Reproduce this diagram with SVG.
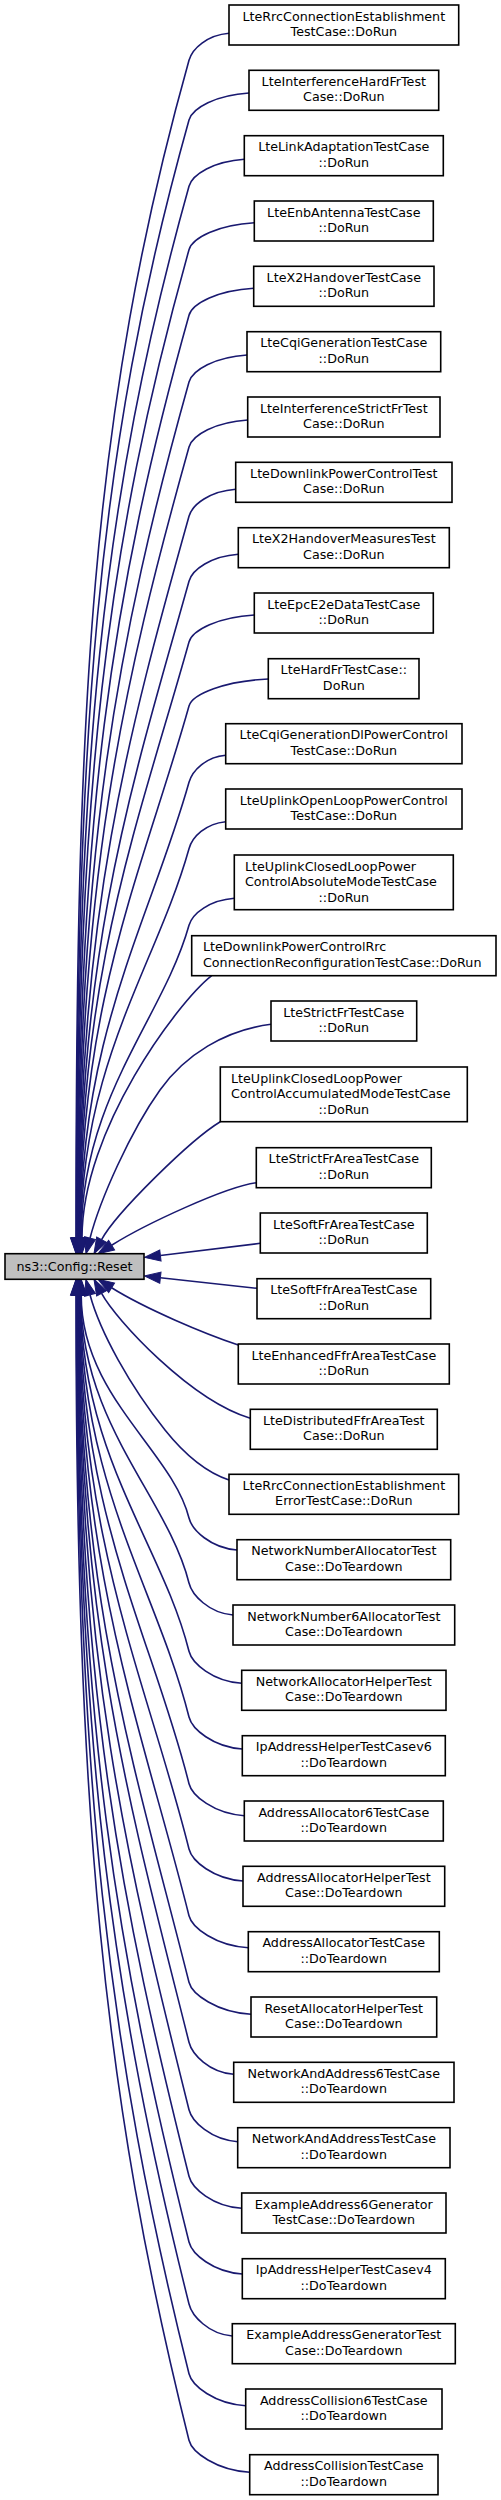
<svg xmlns="http://www.w3.org/2000/svg" width="501" height="2500" viewBox="0 0 501 2500">
<style>
.node rect{fill:#ffffff;stroke:#000000;stroke-width:1.6}
.root rect{fill:#bfbfbf;stroke:#000000;stroke-width:1.6}
text{font-family:"DejaVu Sans","Liberation Sans",sans-serif;font-size:12.7px;fill:#000000}
.c{text-anchor:middle}
.edges path{fill:none;stroke:#191970;stroke-width:1.6;marker-end:url(#ah)}
</style>
<defs>
<marker id="ah" markerUnits="userSpaceOnUse" markerWidth="16" markerHeight="11.2" viewBox="0 0 16 11.2" refX="0" refY="5.6" orient="auto" overflow="visible">
<path d="M0,0 L16,5.6 L0,11.2 z" fill="#191970" stroke="#191970" stroke-width="1"/>
</marker>
</defs>
<rect width="501" height="2500" fill="#ffffff"/>
<g class="edges" id="edges">
<path d="M229,33.3 C207,35.3 192.4,48.3 189,60.3 C90.1,413.5 76,707.9 76,1237.7"/>
<path d="M249,93 C216,95 192.4,108 189,120 C95.1,455.3 76.4,734.7 76.4,1237.7"/>
<path d="M244.3,159.3 C213.9,161.3 192.4,174.3 189,186.3 C100.7,501.7 76.8,764.6 76.8,1237.7"/>
<path d="M254.3,222.7 C218.4,224.7 192.4,237.7 189,249.7 C106,546.1 77.2,793.1 77.2,1237.7"/>
<path d="M253.7,288.3 C218.1,290.3 192.4,303.3 189,315.3 C111.5,592 77.6,822.6 77.6,1237.7"/>
<path d="M247,355 C215.1,357 192.4,370 189,382 C117.1,638.7 78,852.6 78,1237.7"/>
<path d="M247.7,420 C215.4,422 192.4,435 189,447 C122.6,684.2 78.4,881.9 78.4,1237.7"/>
<path d="M235.7,489.3 C210,491.3 192.4,504.3 189,516.3 C128.4,732.7 78.8,913.1 78.8,1237.7"/>
<path d="M238.3,554.3 C211.2,556.3 192.4,569.3 189,581.3 C133.9,778.2 79.2,942.3 79.2,1237.7"/>
<path d="M254.3,615 C218.4,617 192.4,630 189,642 C139,820.7 79.6,969.6 79.6,1237.7"/>
<path d="M268.3,679 C224.7,681 192.4,694 189,706 C144.3,865.5 80,998.4 80,1237.7"/>
<path d="M225.7,755.3 C205.5,757.3 192.4,770.3 189,782.3 C150.7,918.9 80.4,1032.8 80.4,1237.7"/>
<path d="M225.7,821.7 C205.5,823.7 192.4,836.7 189,848.7 C156.3,965.4 80.8,1062.7 80.8,1237.7"/>
<path d="M234.3,898.3 C209.4,900.3 192.4,913.3 189,925.3 C162.8,1019 81.2,1097.1 81.2,1237.7"/>
<path d="M211.7,975.7 C178,1002 82,1130 82,1237.7"/>
<path d="M271,1024.3 C225,1030 185,1055 160,1090 C130,1132 100,1200 90,1238.2"/>
<path d="M220.3,1121.7 C190,1140 115.9,1213.2 101.6,1239.6"/>
<path d="M256.3,1182.7 C225,1187 145.6,1224 111.6,1245.2"/>
<path d="M260.3,1243.3 C220,1248 190,1252 160.4,1255.5"/>
<path d="M257,1288.3 C220,1284.5 190,1281 160.4,1277.7"/>
<path d="M238.3,1345 C205,1334 145.6,1309 111.6,1287.8"/>
<path d="M250.3,1418.3 C190,1400 115.9,1319.8 101.6,1293.4"/>
<path d="M229,1480 C205,1472 185,1455 165,1430 C130,1386 100,1332 90,1294.8"/>
<path d="M237,1550 C210.6,1548 192,1530 189,1518 C172.3,1451.2 81.2,1395.5 81.2,1295.3"/>
<path d="M233,1615 C208.8,1613 192,1595 189,1583 C167.4,1496.7 80.8,1424.8 80.8,1295.3"/>
<path d="M241.7,1683.3 C212.7,1681.3 192,1663.3 189,1651.3 C162.3,1544.5 80.5,1455.5 80.5,1295.3"/>
<path d="M242.3,1749 C213,1747 192,1729 189,1717 C157.4,1590.5 80.1,1485.1 80.1,1295.3"/>
<path d="M244.3,1815.7 C213.9,1813.7 192,1795.7 189,1783.7 C152.4,1637.2 79.7,1515.1 79.7,1295.3"/>
<path d="M243,1881 C213.3,1879 192,1861 189,1849 C147.5,1682.9 79.3,1544.5 79.3,1295.3"/>
<path d="M248.3,1947.7 C215.7,1945.7 192,1927.7 189,1915.7 C142.5,1729.6 79,1574.5 79,1295.3"/>
<path d="M251,2014.3 C216.9,2012.3 192,1994.3 189,1982.3 C137.5,1776.2 78.6,1604.5 78.6,1295.3"/>
<path d="M233.7,2074.3 C209.1,2072.3 192,2054.3 189,2042.3 C133,1818.2 78.2,1631.5 78.2,1295.3"/>
<path d="M237.7,2141.7 C210.9,2139.7 192,2121.7 189,2109.7 C127.9,1865.4 77.9,1661.8 77.9,1295.3"/>
<path d="M241.7,2208.3 C212.7,2206.3 192,2188.3 189,2176.3 C122.9,1912 77.5,1691.8 77.5,1295.3"/>
<path d="M242.3,2274 C213,2272 192,2254 189,2242 C118,1958 77.1,1721.3 77.1,1295.3"/>
<path d="M232.3,2336 C208.5,2334 192,2316 189,2304 C113.3,2001.4 76.8,1749.2 76.8,1295.3"/>
<path d="M245.7,2405.7 C214.5,2403.7 192,2385.7 189,2373.7 C108.1,2050.2 76.4,1780.6 76.4,1295.3"/>
<path d="M249.7,2472.3 C216.3,2470.3 192,2452.3 189,2440.3 C103.1,2096.8 76,1810.6 76,1295.3"/>
</g>
<g id="root" class="root"><rect x="5" y="1253.7" width="139" height="25.6"/><text class="c" x="74.5" y="1271">ns3::Config::Reset</text></g>
<g id="n1" class="node"><rect x="229" y="5" width="229.7" height="40"/><text class="c" x="343.8" y="20.7">LteRrcConnectionEstablishment</text><text class="c" x="343.8" y="36">TestCase::DoRun</text></g>
<g id="n2" class="node"><rect x="249" y="70.3" width="189.7" height="40"/><text class="c" x="343.8" y="86">LteInterferenceHardFrTest</text><text class="c" x="343.8" y="101.3">Case::DoRun</text></g>
<g id="n3" class="node"><rect x="244.3" y="135.7" width="199" height="40"/><text class="c" x="343.8" y="151.4">LteLinkAdaptationTestCase</text><text class="c" x="343.8" y="166.7">::DoRun</text></g>
<g id="n4" class="node"><rect x="254.3" y="201" width="179" height="40"/><text class="c" x="343.8" y="216.7">LteEnbAntennaTestCase</text><text class="c" x="343.8" y="232">::DoRun</text></g>
<g id="n5" class="node"><rect x="253.7" y="266.3" width="180.3" height="40"/><text class="c" x="343.8" y="282">LteX2HandoverTestCase</text><text class="c" x="343.8" y="297.3">::DoRun</text></g>
<g id="n6" class="node"><rect x="247" y="331.7" width="193.7" height="40"/><text class="c" x="343.8" y="347.4">LteCqiGenerationTestCase</text><text class="c" x="343.8" y="362.7">::DoRun</text></g>
<g id="n7" class="node"><rect x="247.7" y="397" width="192.3" height="40"/><text class="c" x="343.8" y="412.7">LteInterferenceStrictFrTest</text><text class="c" x="343.8" y="428">Case::DoRun</text></g>
<g id="n8" class="node"><rect x="235.7" y="462.3" width="216.3" height="40"/><text class="c" x="343.8" y="478">LteDownlinkPowerControlTest</text><text class="c" x="343.8" y="493.3">Case::DoRun</text></g>
<g id="n9" class="node"><rect x="238.3" y="527.7" width="211" height="40"/><text class="c" x="343.8" y="543.4">LteX2HandoverMeasuresTest</text><text class="c" x="343.8" y="558.7">Case::DoRun</text></g>
<g id="n10" class="node"><rect x="254.3" y="593" width="179" height="40"/><text class="c" x="343.8" y="608.7">LteEpcE2eDataTestCase</text><text class="c" x="343.8" y="624">::DoRun</text></g>
<g id="n11" class="node"><rect x="268.3" y="658.7" width="150.7" height="40"/><text class="c" x="343.8" y="674.4">LteHardFrTestCase::</text><text class="c" x="343.8" y="689.7">DoRun</text></g>
<g id="n12" class="node"><rect x="225.7" y="723.7" width="236.3" height="40"/><text class="c" x="343.8" y="739.4">LteCqiGenerationDlPowerControl</text><text class="c" x="343.8" y="754.7">TestCase::DoRun</text></g>
<g id="n13" class="node"><rect x="225.7" y="789" width="236.3" height="40"/><text class="c" x="343.8" y="804.7">LteUplinkOpenLoopPowerControl</text><text class="c" x="343.8" y="820">TestCase::DoRun</text></g>
<g id="n14" class="node"><rect x="234.3" y="855" width="219" height="54.7"/><text x="245" y="871">LteUplinkClosedLoopPower</text><text x="245" y="886.3">ControlAbsoluteModeTestCase</text><text class="c" x="343.8" y="901.6">::DoRun</text></g>
<g id="n15" class="node"><rect x="191.7" y="935.7" width="304.3" height="40"/><text x="203" y="951.4">LteDownlinkPowerControlRrc</text><text x="203" y="966.7">ConnectionReconfigurationTestCase::DoRun</text></g>
<g id="n16" class="node"><rect x="271" y="1001" width="145.7" height="40"/><text class="c" x="343.8" y="1016.7">LteStrictFrTestCase</text><text class="c" x="343.8" y="1032">::DoRun</text></g>
<g id="n17" class="node"><rect x="220.3" y="1067" width="247" height="54.7"/><text x="231" y="1083">LteUplinkClosedLoopPower</text><text x="231" y="1098.3">ControlAccumulatedModeTestCase</text><text class="c" x="343.8" y="1113.6">::DoRun</text></g>
<g id="n18" class="node"><rect x="256.3" y="1147.7" width="175" height="40"/><text class="c" x="343.8" y="1163.4">LteStrictFrAreaTestCase</text><text class="c" x="343.8" y="1178.7">::DoRun</text></g>
<g id="n19" class="node"><rect x="260.3" y="1213" width="167" height="40"/><text class="c" x="343.8" y="1228.7">LteSoftFrAreaTestCase</text><text class="c" x="343.8" y="1244">::DoRun</text></g>
<g id="n20" class="node"><rect x="257" y="1278.7" width="173.7" height="40"/><text class="c" x="343.8" y="1294.4">LteSoftFfrAreaTestCase</text><text class="c" x="343.8" y="1309.7">::DoRun</text></g>
<g id="n21" class="node"><rect x="238.3" y="1344" width="211" height="40"/><text class="c" x="343.8" y="1359.7">LteEnhancedFfrAreaTestCase</text><text class="c" x="343.8" y="1375">::DoRun</text></g>
<g id="n22" class="node"><rect x="250.3" y="1409.3" width="187" height="40"/><text class="c" x="343.8" y="1425">LteDistributedFfrAreaTest</text><text class="c" x="343.8" y="1440.3">Case::DoRun</text></g>
<g id="n23" class="node"><rect x="229" y="1474.3" width="229.7" height="40"/><text class="c" x="343.8" y="1490">LteRrcConnectionEstablishment</text><text class="c" x="343.8" y="1505.3">ErrorTestCase::DoRun</text></g>
<g id="n24" class="node"><rect x="237" y="1539.7" width="213.7" height="40"/><text class="c" x="343.8" y="1555.4">NetworkNumberAllocatorTest</text><text class="c" x="343.8" y="1570.7">Case::DoTeardown</text></g>
<g id="n25" class="node"><rect x="233" y="1605" width="221.7" height="40"/><text class="c" x="343.8" y="1620.7">NetworkNumber6AllocatorTest</text><text class="c" x="343.8" y="1636">Case::DoTeardown</text></g>
<g id="n26" class="node"><rect x="241.7" y="1670.3" width="204.3" height="40"/><text class="c" x="343.8" y="1686">NetworkAllocatorHelperTest</text><text class="c" x="343.8" y="1701.3">Case::DoTeardown</text></g>
<g id="n27" class="node"><rect x="242.3" y="1735.7" width="203" height="40"/><text class="c" x="343.8" y="1751.4">IpAddressHelperTestCasev6</text><text class="c" x="343.8" y="1766.7">::DoTeardown</text></g>
<g id="n28" class="node"><rect x="244.3" y="1801" width="199" height="40"/><text class="c" x="343.8" y="1816.7">AddressAllocator6TestCase</text><text class="c" x="343.8" y="1832">::DoTeardown</text></g>
<g id="n29" class="node"><rect x="243" y="1866.3" width="201.7" height="40"/><text class="c" x="343.8" y="1882">AddressAllocatorHelperTest</text><text class="c" x="343.8" y="1897.3">Case::DoTeardown</text></g>
<g id="n30" class="node"><rect x="248.3" y="1931.7" width="191" height="40"/><text class="c" x="343.8" y="1947.4">AddressAllocatorTestCase</text><text class="c" x="343.8" y="1962.7">::DoTeardown</text></g>
<g id="n31" class="node"><rect x="251" y="1997" width="185.7" height="40"/><text class="c" x="343.8" y="2012.7">ResetAllocatorHelperTest</text><text class="c" x="343.8" y="2028">Case::DoTeardown</text></g>
<g id="n32" class="node"><rect x="233.7" y="2062.3" width="220.3" height="40"/><text class="c" x="343.8" y="2078">NetworkAndAddress6TestCase</text><text class="c" x="343.8" y="2093.3">::DoTeardown</text></g>
<g id="n33" class="node"><rect x="237.7" y="2127.7" width="212.3" height="40"/><text class="c" x="343.8" y="2143.4">NetworkAndAddressTestCase</text><text class="c" x="343.8" y="2158.7">::DoTeardown</text></g>
<g id="n34" class="node"><rect x="241.7" y="2193" width="204.3" height="40"/><text class="c" x="343.8" y="2208.7">ExampleAddress6Generator</text><text class="c" x="343.8" y="2224">TestCase::DoTeardown</text></g>
<g id="n35" class="node"><rect x="242.3" y="2258.7" width="203" height="40"/><text class="c" x="343.8" y="2274.4">IpAddressHelperTestCasev4</text><text class="c" x="343.8" y="2289.7">::DoTeardown</text></g>
<g id="n36" class="node"><rect x="232.3" y="2323.7" width="223" height="40"/><text class="c" x="343.8" y="2339.4">ExampleAddressGeneratorTest</text><text class="c" x="343.8" y="2354.7">Case::DoTeardown</text></g>
<g id="n37" class="node"><rect x="245.7" y="2389" width="196.3" height="40"/><text class="c" x="343.8" y="2404.7">AddressCollision6TestCase</text><text class="c" x="343.8" y="2420">::DoTeardown</text></g>
<g id="n38" class="node"><rect x="249.7" y="2454.7" width="188.3" height="40"/><text class="c" x="343.8" y="2470.4">AddressCollisionTestCase</text><text class="c" x="343.8" y="2485.7">::DoTeardown</text></g>
</svg>
